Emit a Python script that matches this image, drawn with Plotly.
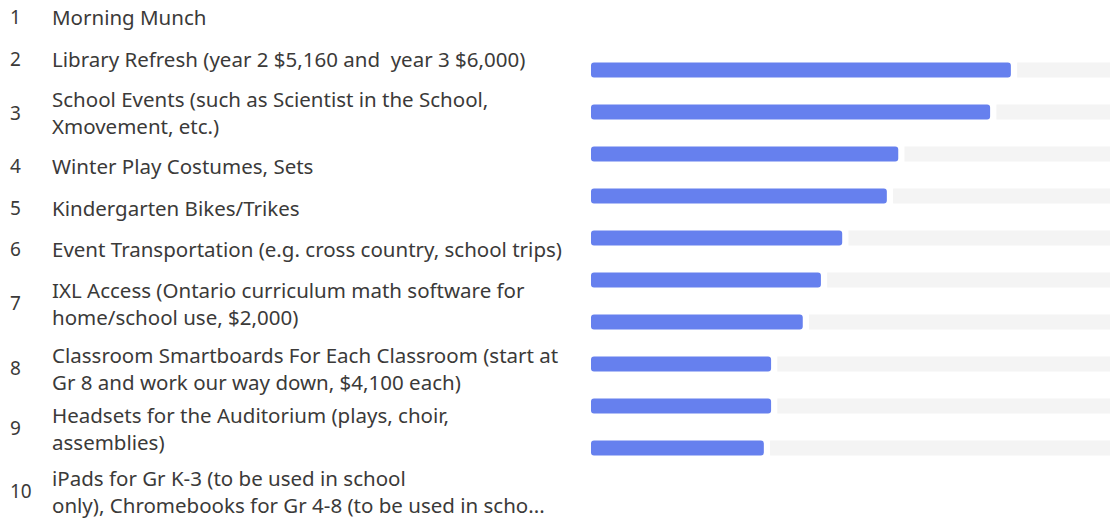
import plotly.graph_objects as go

W, H = 1110, 523

ranks = ["1", "2", "3", "4", "5", "6", "7", "8", "9", "10"]
labels = [
    ["Morning Munch"],
    ["Library Refresh (year 2 $5,160 and  year 3 $6,000)"],
    ["School Events (such as Scientist in the School,", "Xmovement, etc.)"],
    ["Winter Play Costumes, Sets"],
    ["Kindergarten Bikes/Trikes"],
    ["Event Transportation (e.g. cross country, school trips)"],
    ["IXL Access (Ontario curriculum math software for", "home/school use, $2,000)"],
    ["Classroom Smartboards For Each Classroom (start at", "Gr 8 and work our way down, $4,100 each)"],
    ["Headsets for the Auditorium (plays, choir,", "assemblies)"],
    ["iPads for Gr K-3 (to be used in school", "only), Chromebooks for Gr 4-8 (to be used in scho..."],
]
# bar scores (scale 0-10)
scores = [8.09, 7.69, 5.92, 5.70, 4.84, 4.43, 4.08, 3.47, 3.47, 3.33]
max_score = 10
gap = 0.12

bar_color = "#6680EE"
track_color = "#F4F4F4"
text_color = "#3B3A39"
font_family = "Noto Sans"
fsize = 20.5

fig = go.Figure()
# gray remaining track
fig.add_trace(go.Bar(
    y=ranks, x=[max_score - s - gap for s in scores], base=[s + gap for s in scores],
    orientation="h", marker=dict(color=track_color, line=dict(width=0)),
    hoverinfo="skip", showlegend=False,
))
# value bar (drawn from value back to 0 so the rounded end is at the left)
fig.add_trace(go.Bar(
    y=ranks, x=[-s for s in scores], base=scores,
    orientation="h", marker=dict(color=bar_color, line=dict(width=0), cornerradius=3),
    customdata=scores, hovertemplate="%{customdata}<extra></extra>", showlegend=False,
))

top_px, bot_px = 49, 469
fig.update_layout(
    width=W, height=H,
    margin=dict(l=0, r=0, t=0, b=0),
    paper_bgcolor="white", plot_bgcolor="white",
    barmode="overlay", bargap=0.64,
    xaxis=dict(domain=[591 / W, 1.0], range=[0, max_score], visible=False, fixedrange=True),
    yaxis=dict(domain=[(H - bot_px) / H, (H - top_px) / H], autorange="reversed",
               visible=False, type="category", fixedrange=True),
    font=dict(family=font_family, color=text_color, size=fsize),
)

# label layout (pixel rows of each list item)
row_px = [17, 59, 113, 166, 208, 249, 303, 368, 428, 491]
line_sp = 27
for r, lines, py in zip(ranks, labels, row_px):
    fig.add_annotation(x=8 / W, y=1 - py / H, xref="paper", yref="paper",
                       text=r, showarrow=False, xanchor="left", yanchor="middle",
                       font=dict(size=19, color=text_color, family=font_family))
    n = len(lines)
    for i, ln in enumerate(lines):
        ly = py + (i - (n - 1) / 2) * line_sp
        fig.add_annotation(x=50 / W, y=1 - ly / H, xref="paper", yref="paper",
                           text=ln, showarrow=False, xanchor="left", yanchor="middle",
                           font=dict(size=fsize, color=text_color, family=font_family))

fig.write_html("out.html")
